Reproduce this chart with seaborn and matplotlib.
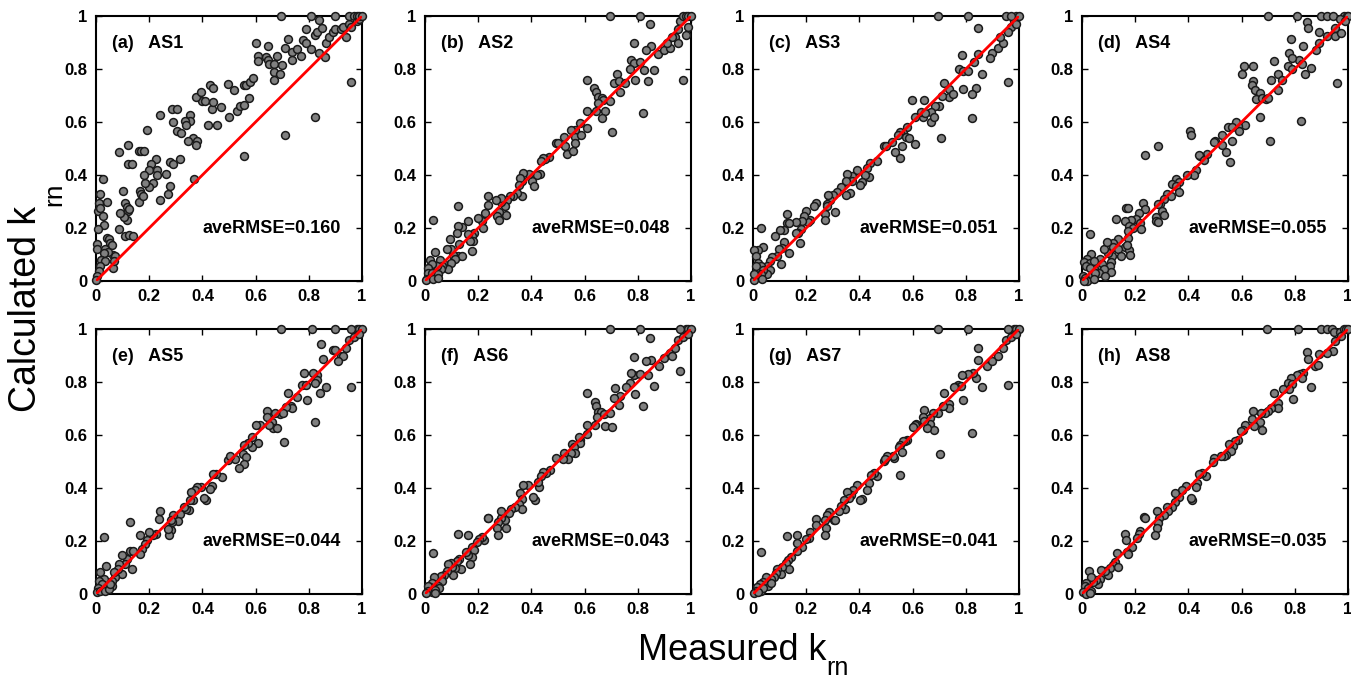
import matplotlib
matplotlib.use('Agg')
import matplotlib.pyplot as plt
import seaborn as sns
import pandas as pd
from matplotlib.ticker import FormatStrFormatter

sns.set_style('ticks')
plt.rcParams['font.family'] = ['Liberation Sans', 'DejaVu Sans']
plt.rcParams.update({'text.color': 'black', 'xtick.color': 'black', 'ytick.color': 'black',
                     'axes.labelcolor': 'black', 'axes.edgecolor': 'black'})

# (measured, calculated) pairs
as1 = [(0.695, 1.0), (0.81, 1.0), (0.90, 1.0), (0.60, 0.90), (0.61, 0.85), (0.61, 0.83), (0.645, 0.885),
       (0.64, 0.845), (0.648, 0.833), (0.65, 0.82), (0.67, 0.82), (0.68, 0.85), (0.67, 0.79), (0.67, 0.76),
       (0.69, 0.78), (0.70, 0.815), (0.72, 0.915), (0.71, 0.88), (0.735, 0.865), (0.735, 0.833), (0.755, 0.877),
       (0.77, 0.85), (0.79, 0.95), (0.78, 0.91), (0.79, 0.90), (0.81, 0.877), (0.825, 0.93), (0.83, 0.94),
       (0.84, 0.86), (0.86, 0.845), (0.84, 0.985), (0.85, 0.955), (0.865, 0.90), (0.875, 0.92), (0.89, 0.94),
       (0.90, 0.95), (0.825, 0.62), (0.71, 0.55), (0.555, 0.47), (0.495, 0.745), (0.52, 0.72), (0.50, 0.62),
       (0.53, 0.64), (0.54, 0.66), (0.555, 0.665), (0.555, 0.74), (0.565, 0.74), (0.58, 0.75), (0.59, 0.765),
       (0.575, 0.69), (0.43, 0.74), (0.44, 0.727), (0.40, 0.68), (0.41, 0.68), (0.435, 0.65), (0.44, 0.675),
       (0.47, 0.655), (0.42, 0.59), (0.455, 0.59), (0.375, 0.695), (0.395, 0.715), (0.355, 0.625), (0.355, 0.605),
       (0.335, 0.605), (0.34, 0.59), (0.365, 0.54), (0.345, 0.53), (0.38, 0.53), (0.375, 0.515), (0.37, 0.385),
       (0.285, 0.65), (0.305, 0.65), (0.29, 0.60), (0.305, 0.565), (0.32, 0.56), (0.315, 0.46), (0.28, 0.45),
       (0.29, 0.44), (0.28, 0.36), (0.27, 0.33), (0.265, 0.405), (0.24, 0.625), (0.19, 0.57), (0.225, 0.46),
       (0.205, 0.44), (0.20, 0.42), (0.23, 0.42), (0.23, 0.40), (0.215, 0.37), (0.20, 0.355), (0.185, 0.37),
       (0.18, 0.40), (0.24, 0.305), (0.16, 0.49), (0.17, 0.49), (0.18, 0.49), (0.165, 0.34), (0.17, 0.33),
       (0.16, 0.30), (0.175, 0.32), (0.12, 0.515), (0.122, 0.44), (0.135, 0.44), (0.085, 0.485), (0.10, 0.34),
       (0.11, 0.295), (0.115, 0.28), (0.12, 0.265), (0.125, 0.27), (0.115, 0.23), (0.105, 0.24), (0.09, 0.255),
       (0.11, 0.17), (0.125, 0.175), (0.14, 0.17), (0.085, 0.195), (0.065, 0.10), (0.07, 0.095), (0.0625, 0.05),
       (0.066, 0.075), (0.04, 0.30), (0.026, 0.385), (0.016, 0.33), (0.01, 0.295), (0.0075, 0.265), (0.016, 0.275),
       (0.026, 0.245), (0.03, 0.21), (0.006, 0.195), (0.004, 0.14), (0.004, 0.12), (0.041, 0.163), (0.047, 0.157),
       (0.054, 0.145), (0.06, 0.135), (0.035, 0.122), (0.044, 0.11), (0.029, 0.105), (0.02, 0.08), (0.035, 0.075),
       (0.016, 0.056), (0.01, 0.037), (0.004, 0.019), (0.001, 0.004), (0.92, 0.95), (0.93, 0.96), (0.95, 0.97),
       (0.95, 1.0), (0.96, 0.75), (0.97, 1.0), (0.98, 0.98), (0.98, 1.0), (0.99, 0.99), (0.99, 1.0), (1.0, 1.0),
       (0.94, 0.92), (0.96, 0.96)]

as2 = [(0.694, 1.0), (0.81, 1.0), (0.844, 0.969), (0.784, 0.898), (0.85, 0.886), (0.829, 0.873), (0.875, 0.858),
       (0.775, 0.833), (0.784, 0.823), (0.81, 0.827), (0.825, 0.795), (0.86, 0.795), (0.772, 0.80), (0.72, 0.783),
       (0.79, 0.758), (0.838, 0.756), (0.71, 0.746), (0.73, 0.753), (0.753, 0.746), (0.734, 0.714), (0.61, 0.76),
       (0.637, 0.73), (0.641, 0.714), (0.65, 0.695), (0.665, 0.692), (0.669, 0.683), (0.65, 0.673), (0.694, 0.68),
       (0.678, 0.643), (0.666, 0.614), (0.641, 0.64), (0.609, 0.64), (0.821, 0.635), (0.704, 0.564), (0.61, 0.576),
       (0.584, 0.595), (0.565, 0.57), (0.55, 0.57), (0.565, 0.543), (0.585, 0.55), (0.521, 0.543), (0.525, 0.51),
       (0.535, 0.48), (0.556, 0.489), (0.5625, 0.52), (0.494, 0.52), (0.50, 0.52), (0.466, 0.467), (0.4525, 0.46),
       (0.444, 0.464), (0.4375, 0.451), (0.431, 0.405), (0.4225, 0.40), (0.4025, 0.376), (0.409, 0.36), (0.39, 0.405),
       (0.369, 0.407), (0.365, 0.376), (0.356, 0.388), (0.352, 0.363), (0.365, 0.32), (0.344, 0.332), (0.331, 0.32),
       (0.319, 0.322), (0.31, 0.307), (0.306, 0.25), (0.30, 0.282), (0.284, 0.30), (0.285, 0.315), (0.266, 0.307),
       (0.2775, 0.26), (0.269, 0.244), (0.2775, 0.232), (0.2375, 0.322), (0.235, 0.288), (0.225, 0.257),
       (0.2125, 0.226), (0.20, 0.238), (0.219, 0.20), (0.185, 0.182), (0.175, 0.169), (0.181, 0.15), (0.169, 0.15),
       (0.1625, 0.226), (0.16, 0.176), (0.175, 0.113), (0.125, 0.284), (0.1375, 0.203), (0.1225, 0.207),
       (0.119, 0.182), (0.1275, 0.138), (0.125, 0.096), (0.1375, 0.096), (0.106, 0.10), (0.1125, 0.084),
       (0.0975, 0.12), (0.0975, 0.069), (0.094, 0.157), (0.0875, 0.046), (0.081, 0.119), (0.069, 0.069),
       (0.056, 0.081), (0.0625, 0.056), (0.06, 0.044), (0.044, 0.056), (0.029, 0.229), (0.0375, 0.11),
       (0.019, 0.081), (0.025, 0.063), (0.0125, 0.05), (0.01, 0.031), (0.025, 0.029), (0.0375, 0.019),
       (0.0475, 0.025), (0.006, 0.009), (0.0025, 0.0025), (0.031, 0.006), (0.05, 0.0125), (0.90, 0.87),
       (0.92, 0.88), (0.94, 0.92), (0.95, 0.95), (0.96, 0.98), (0.97, 1.0), (0.98, 1.0), (0.99, 1.0), (1.0, 1.0),
       (0.97, 0.76), (0.98, 0.93), (0.95, 0.90), (0.99, 0.96), (0.93, 0.92), (0.91, 0.90)]

as3 = [(0.694, 1.0), (0.81, 1.0), (0.844, 0.955), (0.784, 0.852), (0.847, 0.858), (0.829, 0.827), (0.776, 0.80),
       (0.789, 0.793), (0.81, 0.793), (0.791, 0.723), (0.839, 0.73), (0.823, 0.705), (0.823, 0.614), (0.719, 0.748),
       (0.738, 0.723), (0.735, 0.693), (0.751, 0.705), (0.71, 0.70), (0.706, 0.539), (0.698, 0.66), (0.685, 0.66),
       (0.669, 0.639), (0.669, 0.599), (0.679, 0.617), (0.641, 0.683), (0.639, 0.617), (0.631, 0.639),
       (0.648, 0.633), (0.599, 0.683), (0.61, 0.617), (0.61, 0.518), (0.579, 0.58), (0.564, 0.557), (0.554, 0.564),
       (0.546, 0.551), (0.576, 0.545), (0.585, 0.539), (0.56, 0.511), (0.554, 0.464), (0.535, 0.486),
       (0.5225, 0.526), (0.491, 0.508), (0.501, 0.508), (0.466, 0.451), (0.441, 0.445), (0.429, 0.426),
       (0.435, 0.392), (0.42, 0.40), (0.41, 0.372), (0.404, 0.363), (0.391, 0.417), (0.3725, 0.395),
       (0.3725, 0.376), (0.354, 0.404), (0.351, 0.376), (0.366, 0.332), (0.351, 0.326), (0.331, 0.355),
       (0.316, 0.335), (0.301, 0.326), (0.31, 0.26), (0.291, 0.307), (0.2825, 0.326), (0.2775, 0.292),
       (0.28, 0.282), (0.27, 0.254), (0.2725, 0.232), (0.235, 0.296), (0.231, 0.282), (0.216, 0.232),
       (0.206, 0.222), (0.201, 0.263), (0.191, 0.244), (0.185, 0.226), (0.179, 0.197), (0.171, 0.182),
       (0.175, 0.144), (0.1625, 0.222), (0.1625, 0.182), (0.126, 0.254), (0.129, 0.217), (0.135, 0.217),
       (0.116, 0.192), (0.101, 0.194), (0.0825, 0.169), (0.116, 0.147), (0.11, 0.125), (0.0975, 0.122),
       (0.135, 0.107), (0.106, 0.065), (0.089, 0.096), (0.0725, 0.091), (0.064, 0.075), (0.054, 0.056),
       (0.064, 0.041), (0.051, 0.025), (0.0375, 0.128), (0.029, 0.20), (0.019, 0.117), (0.004, 0.117),
       (0.01, 0.094), (0.019, 0.069), (0.031, 0.056), (0.01, 0.056), (0.039, 0.041), (0.029, 0.025),
       (0.016, 0.019), (0.004, 0.004), (0.035, 0.009), (0.004, 0.025), (0.86, 0.78), (0.90, 0.86), (0.92, 0.88),
       (0.94, 0.90), (0.96, 0.75), (0.97, 0.96), (0.98, 0.98), (0.99, 1.0), (1.0, 1.0), (0.95, 1.0), (0.97, 1.0),
       (0.93, 0.92), (0.99, 0.97), (0.96, 0.94), (0.89, 0.84)]

as4 = [(0.70, 1.0), (0.81, 1.0), (0.90, 1.0), (0.92, 1.0), (0.945, 1.0), (0.985, 1.0), (0.996, 1.0), (1.0, 1.0),
       (0.847, 0.977), (0.85, 0.953), (0.785, 0.914), (0.89, 0.94), (0.95, 0.956), (0.95, 0.925), (0.975, 0.937),
       (0.97, 0.987), (0.99, 0.98), (0.92, 0.925), (0.89, 0.90), (0.88, 0.87), (0.83, 0.885), (0.815, 0.835),
       (0.826, 0.82), (0.86, 0.805), (0.84, 0.78), (0.78, 0.86), (0.79, 0.84), (0.775, 0.81), (0.79, 0.80),
       (0.72, 0.83), (0.735, 0.78), (0.753, 0.76), (0.712, 0.76), (0.735, 0.72), (0.958, 0.748), (0.61, 0.81),
       (0.60, 0.78), (0.643, 0.81), (0.643, 0.755), (0.64, 0.74), (0.65, 0.72), (0.668, 0.71), (0.653, 0.685),
       (0.675, 0.69), (0.69, 0.685), (0.70, 0.69), (0.67, 0.62), (0.823, 0.605), (0.707, 0.53), (0.614, 0.59),
       (0.586, 0.585), (0.58, 0.60), (0.55, 0.58), (0.564, 0.58), (0.59, 0.565), (0.564, 0.53), (0.527, 0.55),
       (0.54, 0.485), (0.557, 0.45), (0.50, 0.53), (0.495, 0.525), (0.527, 0.515), (0.405, 0.565), (0.41, 0.55),
       (0.284, 0.51), (0.236, 0.475), (0.47, 0.48), (0.445, 0.47), (0.44, 0.475), (0.457, 0.455), (0.43, 0.42),
       (0.42, 0.40), (0.393, 0.40), (0.353, 0.385), (0.34, 0.365), (0.365, 0.375), (0.353, 0.36), (0.365, 0.335),
       (0.32, 0.33), (0.334, 0.32), (0.31, 0.31), (0.293, 0.29), (0.284, 0.29), (0.30, 0.265), (0.31, 0.25),
       (0.277, 0.243), (0.278, 0.226), (0.286, 0.223), (0.231, 0.293), (0.236, 0.27), (0.214, 0.258),
       (0.202, 0.235), (0.218, 0.22), (0.22, 0.195), (0.183, 0.232), (0.164, 0.277), (0.173, 0.277),
       (0.16, 0.226), (0.177, 0.208), (0.19, 0.20), (0.173, 0.19), (0.173, 0.164), (0.16, 0.127), (0.177, 0.117),
       (0.18, 0.10), (0.168, 0.135), (0.126, 0.233), (0.136, 0.16), (0.117, 0.145), (0.117, 0.13), (0.134, 0.12),
       (0.145, 0.095), (0.113, 0.095), (0.098, 0.107), (0.11, 0.07), (0.105, 0.057), (0.11, 0.034), (0.082, 0.12),
       (0.095, 0.148), (0.067, 0.082), (0.076, 0.065), (0.057, 0.044), (0.044, 0.044), (0.082, 0.044),
       (0.063, 0.03), (0.088, 0.02), (0.029, 0.176), (0.035, 0.103), (0.019, 0.082), (0.006, 0.072),
       (0.03, 0.069), (0.044, 0.075), (0.015, 0.057), (0.03, 0.05), (0.004, 0.019), (0.01, 0.013),
       (0.025, 0.009), (0.038, 0.021), (0.05, 0.031), (0.019, 0.0), (0.006, 0.0), (0.044, 0.006)]

as5 = [(0.695, 1.0), (0.8125, 1.0), (0.90, 1.0), (0.8475, 0.943), (0.854, 0.886), (0.89, 0.92), (0.829, 0.827),
       (0.814, 0.833), (0.832, 0.808), (0.864, 0.783), (0.841, 0.758), (0.822, 0.795), (0.781, 0.833),
       (0.773, 0.789), (0.789, 0.789), (0.795, 0.732), (0.822, 0.648), (0.756, 0.745), (0.7225, 0.758),
       (0.733, 0.71), (0.738, 0.701), (0.716, 0.707), (0.691, 0.679), (0.704, 0.682), (0.6725, 0.682),
       (0.641, 0.689), (0.641, 0.669), (0.66, 0.65), (0.666, 0.625), (0.65, 0.638), (0.679, 0.625),
       (0.7075, 0.575), (0.616, 0.638), (0.601, 0.636), (0.61, 0.571), (0.585, 0.556), (0.5725, 0.568),
       (0.585, 0.593), (0.5575, 0.562), (0.554, 0.53), (0.5625, 0.518), (0.556, 0.492), (0.539, 0.477),
       (0.5225, 0.511), (0.4975, 0.505), (0.503, 0.521), (0.4725, 0.442), (0.451, 0.452), (0.441, 0.452),
       (0.435, 0.407), (0.429, 0.398), (0.414, 0.356), (0.4075, 0.364), (0.394, 0.404), (0.379, 0.404),
       (0.3725, 0.391), (0.366, 0.354), (0.356, 0.385), (0.354, 0.354), (0.35, 0.318), (0.339, 0.322),
       (0.329, 0.328), (0.316, 0.303), (0.3075, 0.274), (0.289, 0.297), (0.285, 0.271), (0.281, 0.242),
       (0.276, 0.221), (0.281, 0.28), (0.269, 0.246), (0.239, 0.313), (0.235, 0.284), (0.225, 0.227),
       (0.216, 0.221), (0.201, 0.234), (0.191, 0.202), (0.185, 0.189), (0.1725, 0.17), (0.166, 0.152),
       (0.164, 0.221), (0.126, 0.271), (0.129, 0.162), (0.139, 0.162), (0.116, 0.133), (0.11, 0.114),
       (0.135, 0.095), (0.0975, 0.149), (0.0975, 0.076), (0.085, 0.114), (0.081, 0.095), (0.0725, 0.066),
       (0.066, 0.082), (0.06, 0.05), (0.06, 0.032), (0.039, 0.104), (0.029, 0.215), (0.029, 0.057),
       (0.016, 0.082), (0.01, 0.05), (0.0225, 0.038), (0.041, 0.025), (0.006, 0.023), (0.004, 0.006),
       (0.016, 0.0125), (0.035, 0.0125), (0.0475, 0.019), (0.051, 0.038), (0.90, 0.92), (0.92, 0.90),
       (0.94, 0.93), (0.96, 0.78), (0.95, 0.96), (0.97, 0.97), (0.98, 1.0), (0.99, 1.0), (1.0, 1.0), (0.96, 1.0),
       (0.93, 0.90), (0.99, 0.98), (0.91, 0.88)]

as6 = [(0.694, 1.0), (0.81, 1.0), (0.844, 0.966), (0.85, 0.884), (0.829, 0.88), (0.784, 0.894), (0.7875, 0.827),
       (0.775, 0.833), (0.81, 0.831), (0.8375, 0.828), (0.86, 0.785), (0.821, 0.71), (0.791, 0.754),
       (0.7725, 0.795), (0.756, 0.78), (0.734, 0.747), (0.716, 0.776), (0.709, 0.739), (0.731, 0.713),
       (0.6075, 0.758), (0.64, 0.726), (0.644, 0.71), (0.65, 0.688), (0.6625, 0.688), (0.6475, 0.669),
       (0.6725, 0.679), (0.694, 0.682), (0.6775, 0.634), (0.704, 0.629), (0.64, 0.638), (0.609, 0.638),
       (0.609, 0.602), (0.581, 0.583), (0.581, 0.571), (0.5775, 0.591), (0.5525, 0.566), (0.56, 0.556),
       (0.5625, 0.533), (0.55, 0.533), (0.5375, 0.508), (0.521, 0.533), (0.519, 0.508), (0.494, 0.515),
       (0.469, 0.467), (0.456, 0.457), (0.444, 0.461), (0.4375, 0.444), (0.429, 0.402), (0.425, 0.423),
       (0.4125, 0.354), (0.406, 0.366), (0.3875, 0.41), (0.369, 0.41), (0.356, 0.381), (0.365, 0.359),
       (0.3525, 0.338), (0.365, 0.322), (0.3375, 0.328), (0.325, 0.322), (0.315, 0.306), (0.306, 0.249),
       (0.30, 0.278), (0.2875, 0.285), (0.284, 0.313), (0.275, 0.272), (0.269, 0.249), (0.275, 0.224),
       (0.235, 0.288), (0.2375, 0.285), (0.2225, 0.202), (0.2125, 0.215), (0.2025, 0.209), (0.194, 0.196),
       (0.1775, 0.177), (0.185, 0.167), (0.175, 0.141), (0.169, 0.114), (0.1625, 0.221), (0.1625, 0.149),
       (0.156, 0.158), (0.125, 0.227), (0.135, 0.095), (0.1275, 0.133), (0.119, 0.126), (0.1125, 0.098),
       (0.10, 0.101), (0.0975, 0.116), (0.106, 0.073), (0.0875, 0.114), (0.081, 0.088), (0.0725, 0.073),
       (0.06, 0.069), (0.0625, 0.05), (0.035, 0.066), (0.029, 0.155), (0.0475, 0.032), (0.0525, 0.023),
       (0.025, 0.04), (0.019, 0.025), (0.0125, 0.032), (0.01, 0.0125), (0.025, 0.006), (0.0375, 0.015),
       (0.0375, 0.0025), (0.0025, 0.0025), (0.90, 0.89), (0.92, 0.91), (0.94, 0.93), (0.95, 0.96), (0.96, 0.84),
       (0.97, 0.97), (0.98, 1.0), (0.99, 1.0), (1.0, 1.0), (0.96, 1.0), (0.93, 0.90), (0.99, 0.98), (0.88, 0.86)]

as7 = [(0.694, 1.0), (0.81, 1.0), (0.844, 0.93), (0.847, 0.884), (0.839, 0.815), (0.826, 0.833), (0.81, 0.831),
       (0.8225, 0.609), (0.784, 0.827), (0.7725, 0.789), (0.781, 0.785), (0.76, 0.78), (0.754, 0.78),
       (0.791, 0.732), (0.719, 0.758), (0.735, 0.717), (0.735, 0.701), (0.716, 0.71), (0.704, 0.53),
       (0.694, 0.682), (0.675, 0.682), (0.666, 0.663), (0.664, 0.641), (0.679, 0.62), (0.641, 0.694),
       (0.6375, 0.667), (0.654, 0.625), (0.644, 0.654), (0.614, 0.641), (0.61, 0.638), (0.601, 0.63),
       (0.579, 0.583), (0.5725, 0.577), (0.564, 0.577), (0.554, 0.564), (0.5475, 0.556), (0.56, 0.537),
       (0.554, 0.448), (0.531, 0.515), (0.526, 0.521), (0.504, 0.521), (0.491, 0.502), (0.4975, 0.511),
       (0.466, 0.444), (0.454, 0.457), (0.444, 0.45), (0.435, 0.419), (0.429, 0.394), (0.41, 0.359),
       (0.404, 0.356), (0.391, 0.413), (0.376, 0.391), (0.369, 0.375), (0.354, 0.384), (0.36, 0.362),
       (0.3475, 0.322), (0.341, 0.354), (0.329, 0.331), (0.3225, 0.313), (0.304, 0.278), (0.31, 0.278),
       (0.285, 0.309), (0.279, 0.297), (0.2725, 0.278), (0.276, 0.249), (0.2725, 0.221), (0.235, 0.284),
       (0.235, 0.259), (0.216, 0.234), (0.21, 0.213), (0.1975, 0.209), (0.185, 0.177), (0.166, 0.164),
       (0.164, 0.221), (0.166, 0.193), (0.126, 0.219), (0.141, 0.139), (0.1325, 0.128), (0.1225, 0.116),
       (0.135, 0.095), (0.11, 0.101), (0.104, 0.076), (0.091, 0.095), (0.085, 0.078), (0.079, 0.063),
       (0.066, 0.057), (0.0575, 0.032), (0.066, 0.04), (0.0475, 0.063), (0.039, 0.044), (0.029, 0.16),
       (0.026, 0.038), (0.016, 0.028), (0.01, 0.0125), (0.029, 0.0125), (0.004, 0.0025), (0.039, 0.023),
       (0.019, 0.006), (0.86, 0.78), (0.88, 0.86), (0.90, 0.88), (0.92, 0.90), (0.94, 0.93), (0.96, 0.79),
       (0.95, 0.96), (0.97, 0.97), (0.98, 1.0), (0.99, 1.0), (1.0, 1.0), (0.96, 1.0), (0.99, 0.98)]

as8 = [(0.697, 1.0), (0.813, 1.0), (0.899, 1.0), (0.92, 1.0), (0.939, 1.0), (0.949, 0.987), (0.971, 0.987),
       (0.984, 1.0), (0.992, 1.0), (1.0, 1.0), (0.952, 0.956), (0.942, 0.918), (0.973, 0.975), (0.92, 0.911),
       (0.891, 0.905), (0.876, 0.861), (0.886, 0.863), (0.847, 0.914), (0.851, 0.886), (0.861, 0.782),
       (0.832, 0.835), (0.819, 0.829), (0.81, 0.825), (0.826, 0.816), (0.785, 0.814), (0.773, 0.797),
       (0.788, 0.791), (0.778, 0.775), (0.754, 0.772), (0.794, 0.734), (0.721, 0.757), (0.737, 0.719),
       (0.735, 0.703), (0.712, 0.703), (0.699, 0.69), (0.689, 0.684), (0.674, 0.684), (0.668, 0.648),
       (0.677, 0.62), (0.642, 0.69), (0.639, 0.661), (0.648, 0.635), (0.611, 0.639), (0.604, 0.62),
       (0.598, 0.614), (0.586, 0.582), (0.575, 0.576), (0.566, 0.557), (0.554, 0.567), (0.56, 0.538),
       (0.541, 0.525), (0.532, 0.519), (0.522, 0.522), (0.497, 0.513), (0.491, 0.50), (0.465, 0.446),
       (0.452, 0.456), (0.44, 0.453), (0.431, 0.42), (0.427, 0.403), (0.415, 0.354), (0.408, 0.363),
       (0.392, 0.408), (0.377, 0.392), (0.364, 0.367), (0.351, 0.382), (0.351, 0.348), (0.339, 0.329),
       (0.32, 0.329), (0.322, 0.314), (0.307, 0.297), (0.282, 0.314), (0.291, 0.285), (0.284, 0.268),
       (0.282, 0.249), (0.276, 0.222), (0.234, 0.289), (0.238, 0.285), (0.219, 0.238), (0.216, 0.225),
       (0.206, 0.213), (0.187, 0.177), (0.168, 0.158), (0.174, 0.152), (0.162, 0.228), (0.166, 0.203),
       (0.13, 0.154), (0.124, 0.12), (0.115, 0.108), (0.105, 0.099), (0.134, 0.101), (0.099, 0.07),
       (0.086, 0.086), (0.073, 0.089), (0.067, 0.057), (0.061, 0.038), (0.052, 0.053), (0.042, 0.044),
       (0.027, 0.086), (0.035, 0.063), (0.016, 0.041), (0.01, 0.032), (0.023, 0.023), (0.004, 0.006),
       (0.016, 0.0), (0.035, 0.013), (0.029, 0.003)]

panel_points = [as1, as2, as3, as4, as5, as6, as7, as8]
panel_tags = ['(a)', '(b)', '(c)', '(d)', '(e)', '(f)', '(g)', '(h)']
panel_names = ['AS1', 'AS2', 'AS3', 'AS4', 'AS5', 'AS6', 'AS7', 'AS8']
ave_rmse = ['0.160', '0.048', '0.051', '0.055', '0.044', '0.043', '0.041', '0.035']
tick_vals = [0, 0.2, 0.4, 0.6, 0.8, 1]

W, H = 1351, 681
fig = plt.figure(figsize=(W / 100, H / 100), dpi=100)

col_left = [96, 425, 753, 1082]
row_top = [16, 329]
box_w, box_h = 266, 265

for i, pts in enumerate(panel_points):
    r, c = divmod(i, 4)
    ax = fig.add_axes([col_left[c] / W, 1 - (row_top[r] + box_h) / H, box_w / W, box_h / H])
    df = pd.DataFrame(pts, columns=['measured', 'calculated'])
    sns.scatterplot(data=df, x='measured', y='calculated', ax=ax, color='#808080',
                    edgecolor='#1a1a1a', linewidth=1.1, s=32, clip_on=False, zorder=3)
    ax.axline((0, 0), slope=1, color='red', lw=2, zorder=4)
    ax.set_xlim(0, 1)
    ax.set_ylim(0, 1)
    ax.set_xlabel('')
    ax.set_ylabel('')
    ax.set_xticks(tick_vals)
    ax.set_yticks(tick_vals)
    ax.xaxis.set_major_formatter(FormatStrFormatter('%g'))
    ax.yaxis.set_major_formatter(FormatStrFormatter('%g'))
    ax.tick_params(direction='in', length=4, width=1, top=True, right=True,
                   labelsize=12, pad=6, colors='black')
    for lab in ax.get_xticklabels() + ax.get_yticklabels():
        lab.set_fontweight('bold')
    for sp in ax.spines.values():
        sp.set_linewidth(1.5)
        sp.set_color('black')
    ax.text(0.06, 0.895, panel_tags[i] + '   ' + panel_names[i], transform=ax.transAxes,
            fontsize=13, fontweight='bold', ha='left', va='center', color='black')
    ax.text(0.40, 0.197, 'aveRMSE=' + ave_rmse[i], transform=ax.transAxes,
            fontsize=13, fontweight='bold', ha='left', va='center', color='black')

# axis labels with a low subscript, as in the original
fig.canvas.draw()
rend = fig.canvas.get_renderer()
inv = fig.transFigure.inverted()

tx = fig.text(638 / W, 21 / H, 'Measured k', fontsize=26, ha='left', va='baseline')
bb = tx.get_window_extent(renderer=rend)
px, py = inv.transform((bb.x1, bb.y0))
fig.text(px, 1 / H, 'rn', fontsize=18, ha='left', va='bottom')

ty = fig.text(44 / W, (H - 412) / H, 'Calculated k', fontsize=27, rotation=90, ha='right', va='bottom')
bb = ty.get_window_extent(renderer=rend)
px, py = inv.transform((bb.x1, bb.y1))
fig.text(px - 2 / W, py, 'rn', fontsize=19, rotation=90, ha='left', va='bottom')

fig.savefig('out.png', dpi=100)
